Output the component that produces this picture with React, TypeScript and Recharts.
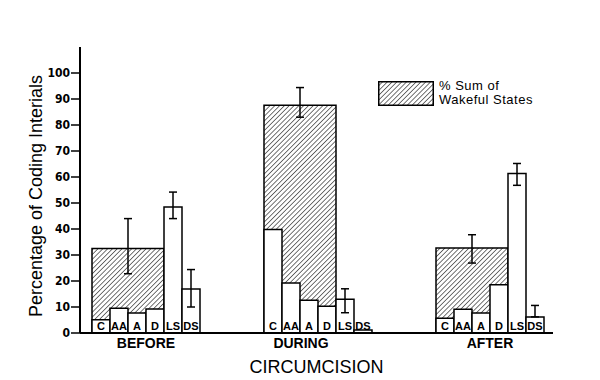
import React from 'react';
import { ComposedChart, Bar, XAxis, YAxis, ErrorBar, Legend, Label, LabelList } from 'recharts';

const groups = ['BEFORE', 'DURING', 'AFTER'];
const wakeful = [32.5, 87.6, 32.7];
const wakefulErr = [[9.7, 11.5], [4.6, 6.8], [5.8, 5.1]];
const stateKeys = ['C', 'AA', 'A', 'D', 'LS', 'DS'];
const cVals = [5.1, 39.8, 5.7];
const aaVals = [9.5, 19.2, 9.1];
const aVals = [7.7, 12.6, 7.7];
const dVals = [9.2, 10.3, 18.6];
const lsVals = [48.5, 13.0, 61.3];
const dsVals = [16.9, 1.2, 6.2];
const lsErr = [[4.5, 5.7], [5.2, 4.0], [4.5, 3.9]];
const dsErr = [[6.9, 7.5], null, [0, 4.4]];
const yTicks = [0, 10, 20, 30, 40, 50, 60, 70, 80, 90, 100];
const xTitle = 'CIRCUMCISION';
const yTitle = 'Percentage of Coding Interials';
const legendLines = ['% Sum of', 'Wakeful States'];

const data = groups.map((g, i) => ({
  group: g,
  wakeful: wakeful[i],
  wakefulErr: wakefulErr[i],
  C: cVals[i],
  AA: aaVals[i],
  A: aVals[i],
  D: dVals[i],
  LS: lsVals[i],
  DS: dsVals[i],
  LSErr: lsErr[i],
  DSErr: dsErr[i],
}));

const FONT = "'Liberation Sans', Arial, sans-serif";
const NARROW = "'Liberation Sans Narrow', 'DejaVu Sans Condensed', 'Liberation Sans', sans-serif";

const GroupTick = (props: any) => {
  const { x, y, payload } = props;
  const shift = payload.value === 'DURING' ? -17 : 0;
  return (
    <text x={x + shift} y={y} dy="0.71em" textAnchor="middle" fontFamily={FONT} fontSize={14} fontWeight="bold" fill="#000">
      {payload.value}
    </text>
  );
};

const HatchPattern = ({ id }: { id: string }) => (
  <pattern id={id} patternUnits="userSpaceOnUse" width="3.4" height="3.4" patternTransform="rotate(45)">
    <line x1="0" y1="0" x2="0" y2="3.4" stroke="#000" strokeWidth="1.1" />
  </pattern>
);

const LegendBox = () => (
  <div style={{ display: 'flex', alignItems: 'flex-start', fontFamily: FONT }}>
    <svg width={56} height={25} style={{ display: 'block' }}>
      <defs>
        <HatchPattern id="hatchL" />
      </defs>
      <rect x={0.75} y={0.75} width={54.5} height={23.5} fill="url(#hatchL)" stroke="#000" strokeWidth={1.5} />
    </svg>
    <div style={{ marginLeft: 5, fontSize: 13, lineHeight: '14px', letterSpacing: 0.5, color: '#000', marginTop: -2 }}>
      {legendLines.map((l) => (
        <div key={l}>{l}</div>
      ))}
    </div>
  </div>
);

export default function App() {
  return (
    <div style={{ position: 'absolute', left: 0, top: 0, background: '#fff' }}>
      <ComposedChart width={600} height={380} data={data} margin={{ top: 47, right: 47, bottom: 0, left: 0 }} barGap={0}>
        <defs>
          <HatchPattern id="hatch" />
        </defs>
        <XAxis
          xAxisId="main"
          dataKey="group"
          padding={{ left: -20, right: -23 }}
          axisLine={{ stroke: '#000', strokeWidth: 2 }}
          tickLine={false}
          tickSize={3}
          tickMargin={2}
          tick={<GroupTick />}
          height={47}
          interval={0}
        >
          <Label
            content={(p: any) => {
              const vb = p.viewBox;
              return (
                <text x={vb.x + vb.width / 2} y={vb.y + 40} textAnchor="middle" fontFamily={FONT} fontSize={18} fill="#000">
                  {xTitle}
                </text>
              );
            }}
          />
        </XAxis>
        <XAxis xAxisId="hatch" dataKey="group" hide height={0} padding={{ left: -38, right: -5 }} />
        <YAxis
          domain={[0, 110]}
          ticks={yTicks}
          width={80}
          interval={0}
          axisLine={{ stroke: '#000', strokeWidth: 2 }}
          tickLine={{ stroke: '#000', strokeWidth: 1.5 }}
          tickSize={9}
          tickMargin={1}
          tick={{ fill: '#000', fontSize: 12, fontWeight: 'bold', fontFamily: NARROW }}
        >
          <Label
            content={(p: any) => {
              const vb = p.viewBox;
              const cx = 42;
              const cy = vb.y + vb.height / 2 + 6;
              return (
                <text x={cx} y={cy} transform={`rotate(-90 ${cx} ${cy})`} textAnchor="middle" fontFamily={FONT} fontSize={18} fill="#000">
                  {yTitle}
                </text>
              );
            }}
          />
        </YAxis>
        <Legend
          verticalAlign="middle"
          align="center"
          layout="horizontal"
          wrapperStyle={{ left: 378, top: 81, width: 200 }}
          content={() => <LegendBox />}
        />
        <Bar xAxisId="hatch" dataKey="wakeful" barSize={72} fill="url(#hatch)" stroke="#000" strokeWidth={1.5} isAnimationActive={false}>
          <ErrorBar dataKey="wakefulErr" width={4} stroke="#000" strokeWidth={1.5} />
        </Bar>
        {stateKeys.map((k) => (
          <Bar key={k} xAxisId="main" dataKey={k} barSize={18} fill="#fff" stroke="#000" strokeWidth={1.5} isAnimationActive={false}>
            <LabelList
              dataKey={k}
              content={(p: any) => (
                <text
                  x={Number(p.x) + Number(p.width) / 2}
                  y={Number(p.y) + Number(p.height) - 3}
                  textAnchor="middle"
                  fontFamily={FONT}
                  fontSize={11}
                  fontWeight="bold"
                  fill="#000"
                >
                  {k}
                </text>
              )}
            />
            {k === 'LS' && <ErrorBar dataKey="LSErr" width={4} stroke="#000" strokeWidth={1.5} />}
            {k === 'DS' && <ErrorBar dataKey="DSErr" width={4} stroke="#000" strokeWidth={1.5} />}
          </Bar>
        ))}
      </ComposedChart>
    </div>
  );
}
